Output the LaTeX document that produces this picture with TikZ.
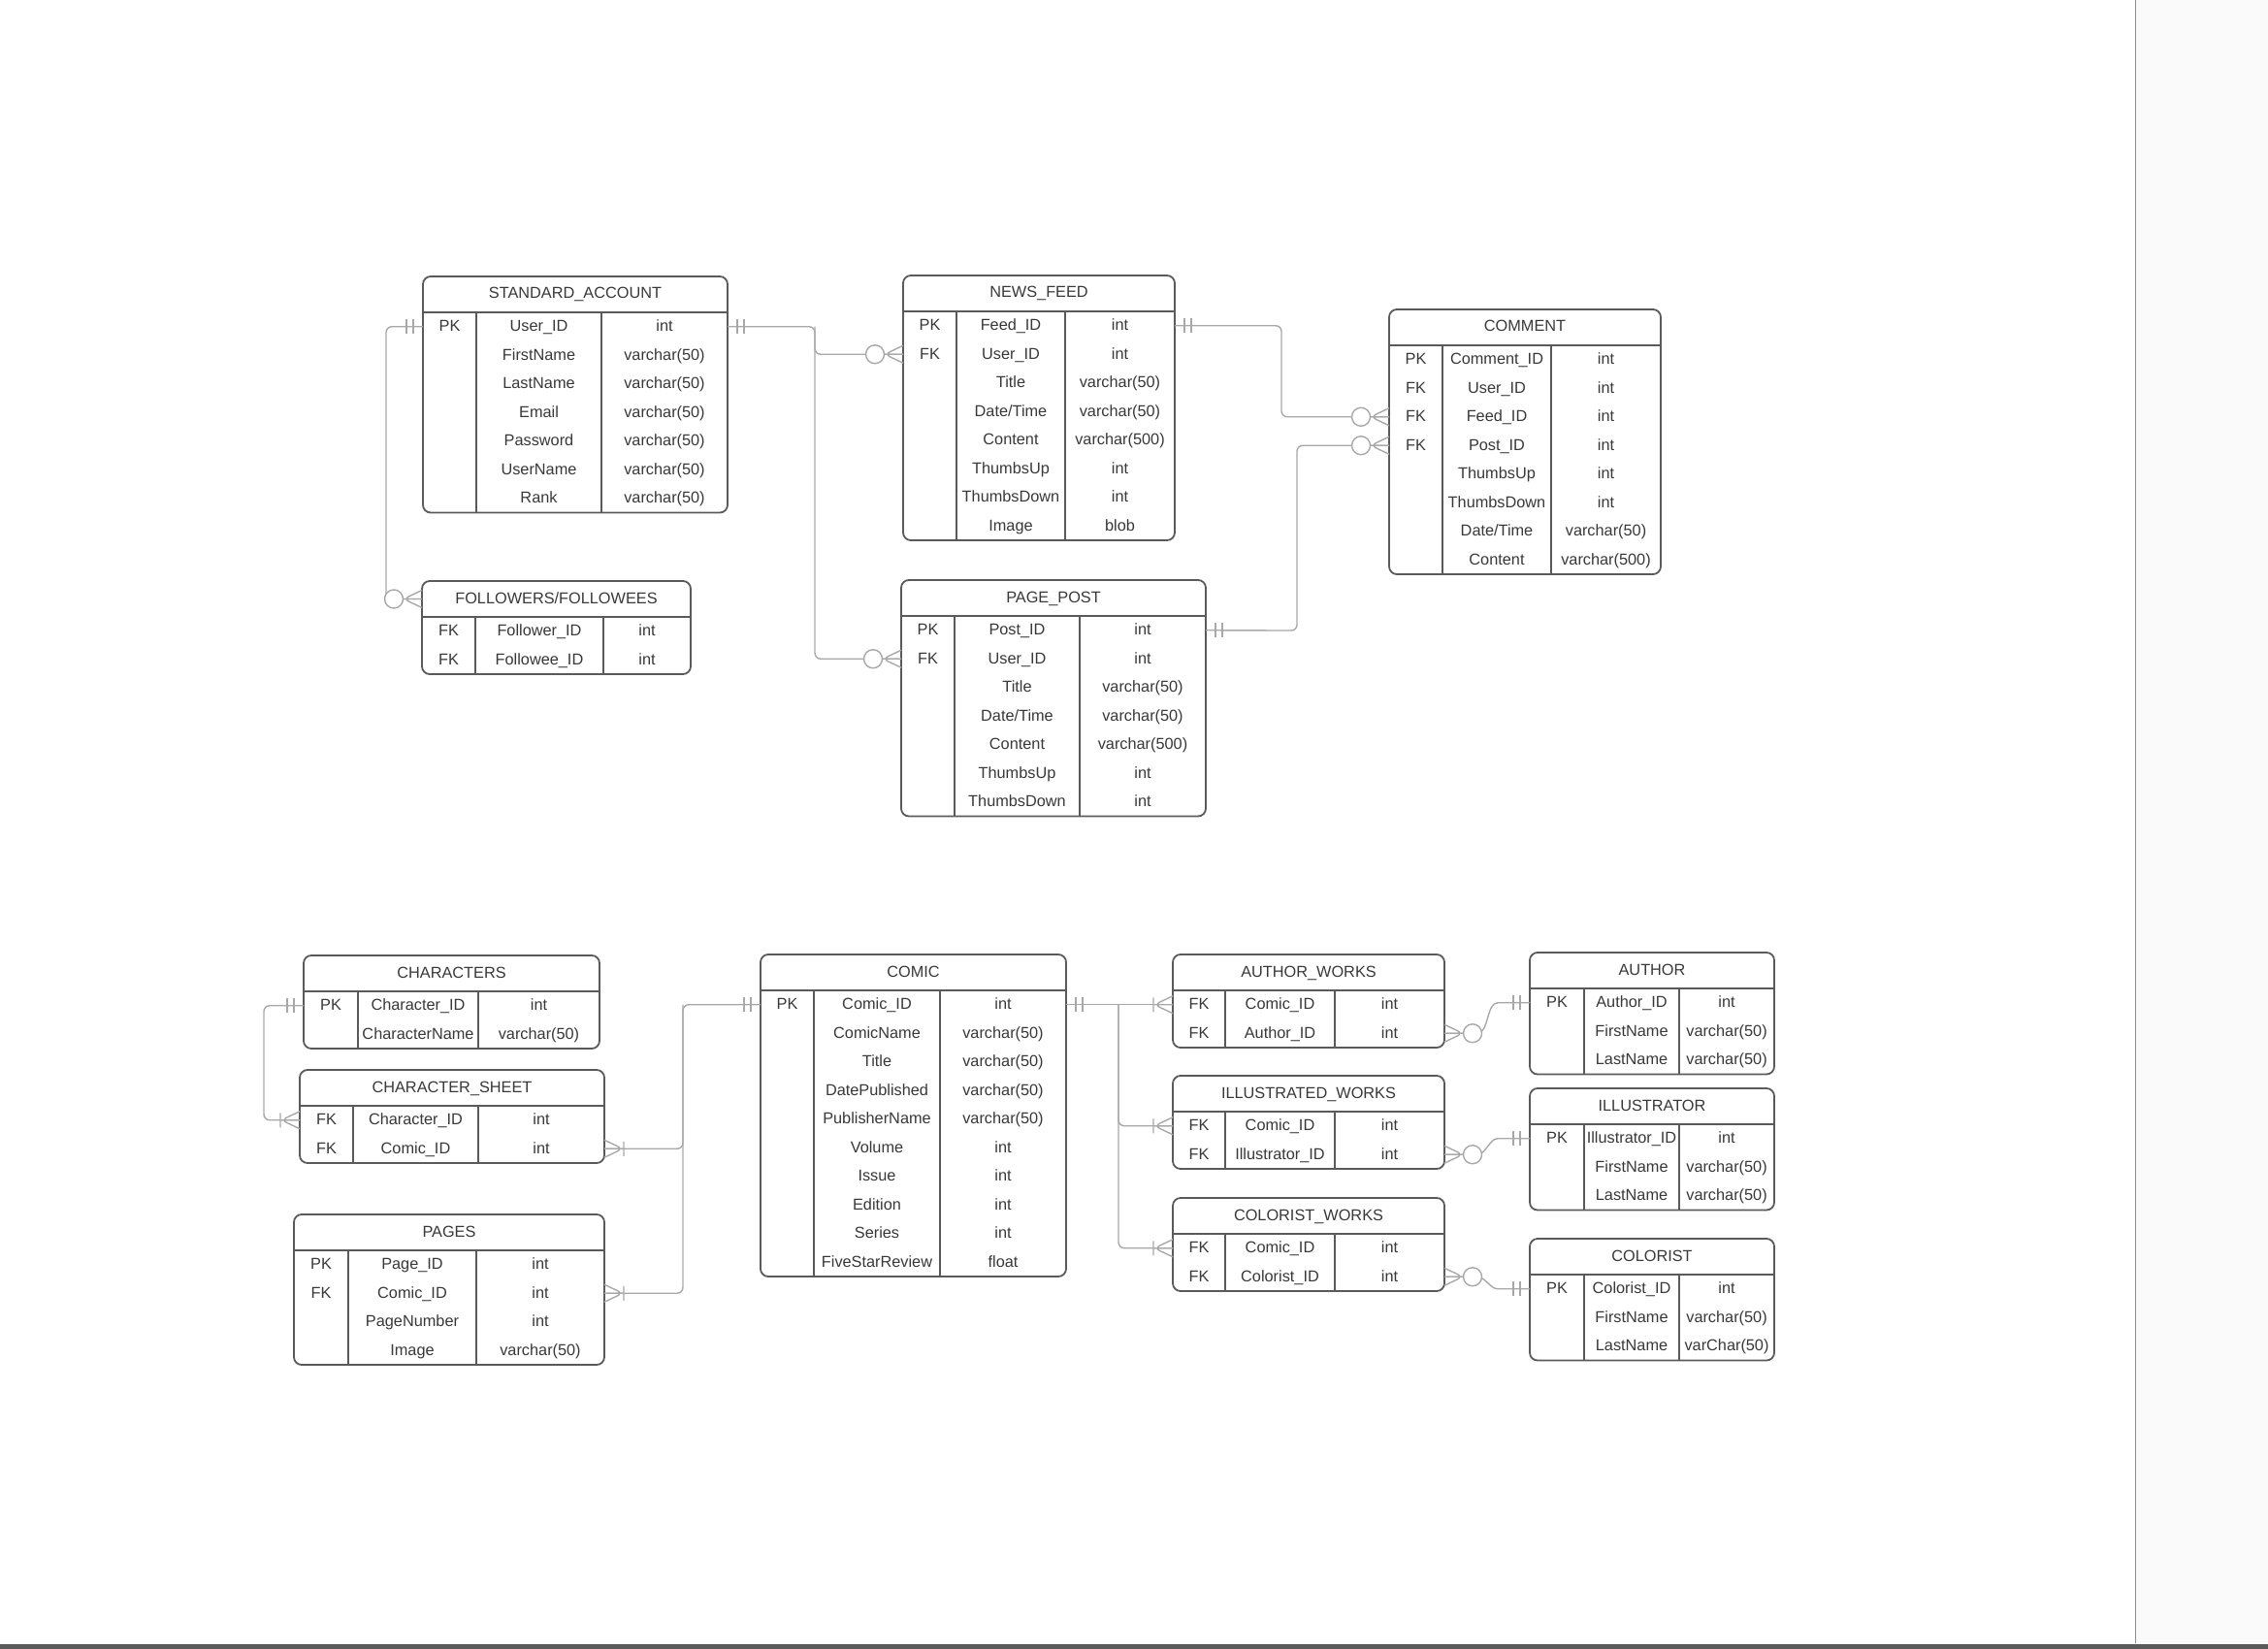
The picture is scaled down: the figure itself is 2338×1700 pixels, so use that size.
\documentclass[tikz,border=0pt]{standalone}
\usepackage{fontspec}
\setmainfont{Liberation Sans}
\usetikzlibrary{fit,calc}

\definecolor{boxgrey}{HTML}{5A5A5A}
\definecolor{txtgrey}{HTML}{383838}
\definecolor{linegrey}{HTML}{A8A8A8}
\definecolor{papergrey}{HTML}{FAFAFA}
\definecolor{edgegrey}{HTML}{8C8C8C}

% table: name, left, top, col1, col2, right, rows, title, fields
\newcommand{\ertable}[9]{%
  \pgfmathsetmacro{\tblbot}{#3+37+#7*29.5}
  \node[tblbox, fit={(#2,#3) (#6,\tblbot)}] (#1) {};
  \draw[tblline] (#2,#3+37) -- (#6,#3+37);
  \draw[tblline] (#4,#3+37) -- (#4,\tblbot) (#5,#3+37) -- (#5,\tblbot);
  \node[tbltext] (#1-t) at ({(#2+#6)/2},#3+23) {#8};
  \coordinate (#1-0-w) at (#2,#3+18.5);
  \foreach \colk/\coln/\colt [count=\i] in {#9} {
    \pgfmathsetmacro{\yy}{#3+37+(\i-0.5)*29.5}
    \coordinate (#1-\i-w) at (#2,\yy);
    \coordinate (#1-\i-e) at (#6,\yy);
    \node[tbltext] (#1-k\i) at ({(#2+#4)/2},\yy+5) {\colk};
    \node[tbltext] (#1-n\i) at ({(#4+#5)/2},\yy+5) {\coln};
    \node[tbltext] (#1-d\i) at ({(#5+#6)/2},\yy+5) {\colt};
  }
}

\begin{document}
\begin{tikzpicture}[x=0.5pt,y=-0.5pt]

\tikzset{tblbox/.style = {draw=boxgrey, line width=0.9pt, rounded corners=4pt, inner sep=0pt}}
\tikzset{tblline/.style = {draw=boxgrey, line width=0.9pt}}
\tikzset{tbltext/.style = {text=txtgrey, anchor=base, inner sep=0pt, font=\fontsize{8.15}{9}\selectfont}}
\tikzset{conn/.style = {draw=linegrey, line width=0.7pt, rounded corners=3pt}}
\tikzset{mone/.pic = {\draw[conn] (10,-7.5) -- (10,7.5) (17,-7.5) -- (17,7.5);}}
\tikzset{zmany/.pic = {\draw[conn] (0,-9) -- (19,0) -- (0,9) (0,0) -- (19,0);
  \draw[conn, fill=white] (29,0) circle[radius=9.5];}}
\tikzset{omany/.pic = {\draw[conn] (0,-9) -- (19,0) -- (0,9) (0,0) -- (19,0) (20,-7.5) -- (20,7.5);}}

\useasboundingbox (0,0) rectangle (2338,1700);
% scanned page edges
\fill[papergrey] (2201,0) rectangle (2338,1700);
\draw[edgegrey, line width=0.5pt] (2201,0) -- (2201,1694);
\fill[boxgrey] (0,1695) rectangle (2338,1700);

% tables
\ertable{sa}{436}{285}{491}{620}{750}{7}{STANDARD\_ACCOUNT}{PK/User\_ID/int, {}/FirstName/varchar(50), {}/LastName/varchar(50), {}/Email/varchar(50), {}/Password/varchar(50), {}/UserName/varchar(50), {}/Rank/varchar(50)}
\ertable{nf}{931}{284}{986}{1098}{1211}{8}{NEWS\_FEED}{PK/Feed\_ID/int, FK/User\_ID/int, {}/Title/varchar(50), {}/{Date/Time}/varchar(50), {}/Content/varchar(500), {}/ThumbsUp/int, {}/ThumbsDown/int, {}/Image/blob}
\ertable{cm}{1432}{319}{1487}{1599}{1712}{8}{COMMENT}{PK/Comment\_ID/int, FK/User\_ID/int, FK/Feed\_ID/int, FK/Post\_ID/int, {}/ThumbsUp/int, {}/ThumbsDown/int, {}/{Date/Time}/varchar(50), {}/Content/varchar(500)}
\ertable{ff}{435}{599}{490}{622}{712}{2}{FOLLOWERS/FOLLOWEES}{FK/Follower\_ID/int, FK/Followee\_ID/int}
\ertable{pp}{929}{598}{984}{1113}{1243}{7}{PAGE\_POST}{PK/Post\_ID/int, FK/User\_ID/int, {}/Title/varchar(50), {}/{Date/Time}/varchar(50), {}/Content/varchar(500), {}/ThumbsUp/int, {}/ThumbsDown/int}

\ertable{ch}{313}{985}{369}{493}{618}{2}{CHARACTERS}{PK/Character\_ID/int, {}/CharacterName/varchar(50)}
\ertable{cs}{309}{1103}{364}{493}{623}{2}{CHARACTER\_SHEET}{FK/Character\_ID/int, FK/Comic\_ID/int}
\ertable{pg}{303}{1252}{359}{491}{623}{4}{PAGES}{PK/Page\_ID/int, FK/Comic\_ID/int, {}/PageNumber/int, {}/Image/varchar(50)}
\ertable{co}{784}{984}{839}{969}{1099}{10}{COMIC}{PK/Comic\_ID/int, {}/ComicName/varchar(50), {}/Title/varchar(50), {}/DatePublished/varchar(50), {}/PublisherName/varchar(50), {}/Volume/int, {}/Issue/int, {}/Edition/int, {}/Series/int, {}/FiveStarReview/float}
\ertable{aw}{1209}{984}{1263}{1376}{1489}{2}{AUTHOR\_WORKS}{FK/Comic\_ID/int, FK/Author\_ID/int}
\ertable{iw}{1209}{1109}{1263}{1376}{1489}{2}{ILLUSTRATED\_WORKS}{FK/Comic\_ID/int, FK/Illustrator\_ID/int}
\ertable{cw}{1209}{1235}{1263}{1376}{1489}{2}{COLORIST\_WORKS}{FK/Comic\_ID/int, FK/Colorist\_ID/int}
\ertable{au}{1577}{982}{1633}{1731}{1829}{3}{AUTHOR}{PK/Author\_ID/int, {}/FirstName/varchar(50), {}/LastName/varchar(50)}
\ertable{il}{1577}{1122}{1633}{1731}{1829}{3}{ILLUSTRATOR}{PK/Illustrator\_ID/int, {}/FirstName/varchar(50), {}/LastName/varchar(50)}
\ertable{cl}{1577}{1277}{1633}{1731}{1829}{3}{COLORIST}{PK/Colorist\_ID/int, {}/FirstName/varchar(50), {}/LastName/varChar(50)}

% connectors
\coordinate (saj) at (840,336.75);
\coordinate (ffj) at (398,336.75);
\coordinate (nfj) at (1321,335.75);
\coordinate (ppj) at (1337,650.05);
\coordinate (chj) at (272,1036.75);
\coordinate (coj) at (704,1035.75);
\coordinate (awj) at (1153,1035.75);

\draw[conn] (sa-1-e) -- (saj) |- (nf-2-w);
\draw[conn] (saj) |- (pp-2-w);
\draw[conn] (sa-1-w) -- (ffj) |- (ff-0-w);
\draw[conn] (nf-1-e) -- (nfj) |- (cm-3-w);
\draw[conn] (pp-1-e) -- (ppj) |- (cm-4-w);

\draw[conn] (ch-1-w) -- (chj) |- (cs-1-w);
\draw[conn] (co-1-w) -- (coj) |- (cs-2-e);
\draw[conn] (coj) |- (pg-2-e);
\draw[conn] (co-1-e) -- (aw-1-w);
\draw[conn] (awj) |- (iw-1-w);
\draw[conn] (awj) |- (cw-1-w);
\draw[conn] (aw-2-e) -- ++(28,0) to[out=0,in=180] ($(au-1-w)+(-27,0)$) -- (au-1-w);
\draw[conn] (iw-2-e) -- ++(28,0) to[out=0,in=180] ($(il-1-w)+(-27,0)$) -- (il-1-w);
\draw[conn] (cw-2-e) -- ++(28,0) to[out=0,in=180] ($(cl-1-w)+(-27,0)$) -- (cl-1-w);

% ends
\pic at (sa-1-e) {mone};
\pic[xscale=-1] at (nf-2-w) {zmany};
\pic[xscale=-1] at (pp-2-w) {zmany};
\pic[xscale=-1] at (sa-1-w) {mone};
\pic[xscale=-1] at (ff-0-w) {zmany};
\pic at (nf-1-e) {mone};
\pic[xscale=-1] at (cm-3-w) {zmany};
\pic at (pp-1-e) {mone};
\pic[xscale=-1] at (cm-4-w) {zmany};

\pic[xscale=-1] at (ch-1-w) {mone};
\pic[xscale=-1] at (cs-1-w) {omany};
\pic[xscale=-1] at (co-1-w) {mone};
\pic at (cs-2-e) {omany};
\pic at (pg-2-e) {omany};
\pic at (co-1-e) {mone};
\pic[xscale=-1] at (aw-1-w) {omany};
\pic[xscale=-1] at (iw-1-w) {omany};
\pic[xscale=-1] at (cw-1-w) {omany};
\pic at (aw-2-e) {zmany};
\pic at (iw-2-e) {zmany};
\pic at (cw-2-e) {zmany};
\pic[xscale=-1] at (au-1-w) {mone};
\pic[xscale=-1] at (il-1-w) {mone};
\pic[xscale=-1] at (cl-1-w) {mone};

\end{tikzpicture}
\end{document}
